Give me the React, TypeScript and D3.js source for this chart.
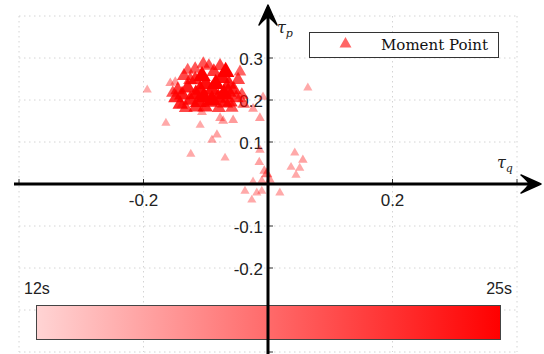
import React from 'react';
import * as d3 from 'd3';

// moment points: tau_q, tau_p and the time (s) of each point
const qVals = [
  -0.194, -0.164, -0.124, -0.109, -0.090, -0.082, -0.069, -0.056, -0.072, -0.042,
  -0.024, -0.013, -0.008, 0.064, -0.013, -0.014, -0.006, -0.002, 0.003, -0.010,
  -0.024, -0.037, -0.018, -0.010, -0.026, 0.019, 0.043, 0.056, 0.037, 0.051,
  0.045, -0.157, -0.149, -0.138, -0.106, -0.077,
  -0.104, -0.117, -0.135, -0.145, -0.148, -0.141, -0.125, -0.129, -0.117, -0.106,
  -0.100, -0.090, -0.103, -0.093, -0.116, -0.080, -0.071, -0.068, -0.074, -0.063,
  -0.055, -0.048, -0.061, -0.051, -0.042, -0.039, -0.079, -0.116, -0.132, -0.087,
  -0.125, -0.138, -0.109, -0.084, -0.064, -0.095, -0.077, -0.045, -0.058, -0.101,
  -0.153, -0.129, -0.112, -0.090, -0.069,
];
const pVals = [
  0.224, 0.145, 0.071, 0.140, 0.105, 0.117, 0.062, 0.152, 0.150, 0.202,
  0.179, 0.157, 0.207, 0.229, 0.081, 0.052, 0.031, 0.024, 0.010, 0.007,
  0.005, -0.017, -0.021, -0.017, -0.038, -0.021, 0.074, 0.057, 0.040, 0.038,
  0.021, 0.240, 0.243, 0.188, 0.171, 0.157,
  0.286, 0.274, 0.257, 0.224, 0.205, 0.190, 0.200, 0.229, 0.248, 0.257,
  0.238, 0.224, 0.207, 0.195, 0.214, 0.205, 0.214, 0.267, 0.252, 0.238,
  0.224, 0.248, 0.195, 0.205, 0.212, 0.190, 0.181, 0.183, 0.181, 0.267,
  0.248, 0.212, 0.224, 0.238, 0.219, 0.281, 0.281, 0.267, 0.181, 0.183,
  0.217, 0.271, 0.195, 0.200, 0.193,
];
const tVals = [
  13, 13, 13, 13, 13.5, 13.5, 13, 14, 14, 14,
  14, 14, 13.5, 13, 13.5, 13.5, 14, 16, 14, 13.5,
  13, 13, 13, 13, 13, 13, 13, 13.5, 13, 13,
  13, 14, 14, 16, 14, 14,
  19, 19, 20, 21, 22, 22, 23, 23, 22, 25,
  24, 24, 25, 23, 24, 24, 25, 25, 24, 23,
  22, 20, 22, 21, 19, 18, 20, 21, 20, 21,
  20, 23, 24, 25, 24, 19, 20, 18, 19, 22,
  19, 18, 24, 25, 23,
];
const xTicks = [-0.4, -0.2, 0.2, 0.4];
const yTicks = [-0.4, -0.3, -0.2, -0.1, 0.1, 0.2, 0.3, 0.4];
const xLabels = [-0.2, 0.2];
const yLabels = [-0.3, -0.2, -0.1, 0.1, 0.2, 0.3];
const timeRange = [12, 25];
const legendLabel = 'Moment Point';

const W = 544;
const H = 354;

export default function App() {
  const x = d3.scaleLinear().domain([-0.4, 0.4]).range([19, 517]);
  const y = d3.scaleLinear().domain([-0.4, 0.4]).range([352, 16]);
  const opacity = d3.scaleLinear().domain(timeRange).range([0.28, 1]);
  const side = d3.scaleLinear().domain(timeRange).range([8.5, 17.5]);
  const tri = (s: number) => d3.symbol().type(d3.symbolTriangle).size(0.433 * s * s)() as string;

  const x0 = x(0);
  const y0 = y(0);
  const fmt = (v: number) => (v < 0 ? '-' : '') + Math.abs(v).toFixed(1);
  const gridX = [-0.4, -0.2, 0, 0.2, 0.4];
  const gridY = d3.range(-4, 5).map((i) => i / 10);

  const points = qVals.map((q, i) => ({ q, p: pVals[i], t: tVals[i] }))
    .sort((a, b) => a.t - b.t);

  const cb = { x: 36.5, y: 305.5, w: 464, h: 34 };
  const sans = '"Liberation Sans", Arial, sans-serif';
  const serif = '"DejaVu Serif", "Liberation Serif", serif';

  return (
    <div style={{ position: 'absolute', left: 0, top: 0 }}>
      <svg width={W} height={H} style={{ display: 'block', background: '#fff' }}>
        <defs>
          <linearGradient id="cbar" x1="0" x2="1" y1="0" y2="0">
            <stop offset="0" stopColor="rgb(255,212,212)" />
            <stop offset="1" stopColor="rgb(255,0,0)" />
          </linearGradient>
        </defs>
        {/* grid */}
        <g stroke="#d4d4d4" strokeWidth={1} strokeDasharray="1.5,3.5">
          {gridX.map((v) => (
            <line key={'gx' + v} x1={x(v)} x2={x(v)} y1={y(0.4)} y2={y(-0.4)} />
          ))}
          {gridY.map((v) => (
            <line key={'gy' + v} x1={x(-0.4)} x2={x(0.4)} y1={y(v)} y2={y(v)} />
          ))}
        </g>
        {/* tick labels */}
        <g fontFamily={sans} fontSize={17} fill="#222">
          {xLabels.map((v) => (
            <text key={'xl' + v} x={x(v)} y={y0 + 22} textAnchor="middle">{fmt(v)}</text>
          ))}
          {yLabels.map((v) => (
            <text key={'yl' + v} x={x0 - 5} y={y(v) + 6.5} textAnchor="end">{fmt(v)}</text>
          ))}
        </g>
        {/* ticks */}
        <g stroke="#333" strokeWidth={1}>
          {xTicks.map((v) => (
            <line key={'xt' + v} x1={x(v)} x2={x(v)} y1={y0} y2={y0 - 5} />
          ))}
          {yTicks.map((v) => (
            <line key={'yt' + v} x1={x0} x2={x0 + 5} y1={y(v)} y2={y(v)} />
          ))}
        </g>
        {/* points */}
        <g>
          {points.map((d, i) => (
            <path
              key={i}
              d={tri(side(d.t))}
              transform={`translate(${x(d.q)},${y(d.p)})`}
              fill="#ff0000"
              fillOpacity={opacity(d.t)}
            />
          ))}
        </g>
        {/* colorbar */}
        <rect x={cb.x} y={cb.y} width={cb.w} height={cb.h} fill="url(#cbar)" stroke="#444" strokeWidth={1} />
        <text x={24} y={294} fontFamily={sans} fontSize={16} fill="#222">{timeRange[0]}s</text>
        <text x={512} y={294} fontFamily={sans} fontSize={16} fill="#222" textAnchor="end">{timeRange[1]}s</text>
        {/* axes with arrows */}
        <line x1={14} x2={532} y1={y0} y2={y0} stroke="#000" strokeWidth={3} />
        <line x1={x0} x2={x0} y1={H} y2={14} stroke="#000" strokeWidth={3} />
        <path
          d={`M541,${y0} L521,${y0 - 9} Q528,${y0 - 3} 529,${y0} Q528,${y0 + 3} 521,${y0 + 9} Z`}
          fill="#000"
          stroke="#000"
          strokeWidth={1.5}
          strokeLinejoin="round"
        />
        <path
          d={`M${x0},5 L${x0 - 9},25 Q${x0 - 3},18 ${x0},17 Q${x0 + 3},18 ${x0 + 9},25 Z`}
          fill="#000"
          stroke="#000"
          strokeWidth={1.5}
          strokeLinejoin="round"
        />
        <text x={277} y={33} fontFamily={serif} fontStyle="italic" fontSize={16} fill="#222">
          τ<tspan fontSize={11} dy={4}>p</tspan>
        </text>
        <text x={497} y={168} fontFamily={serif} fontStyle="italic" fontSize={16} fill="#222">
          τ<tspan fontSize={11} dy={4}>q</tspan>
        </text>
        {/* legend */}
        <rect x={309.5} y={32.5} width={189} height={25} fill="#fff" stroke="#333" strokeWidth={1} />
        <path d={tri(12)} transform="translate(345.5,44)" fill="#ff0000" fillOpacity={0.6} />
        <text x={381} y={50} fontFamily={serif} fontSize={15} fill="#111">{legendLabel}</text>
      </svg>
    </div>
  );
}
